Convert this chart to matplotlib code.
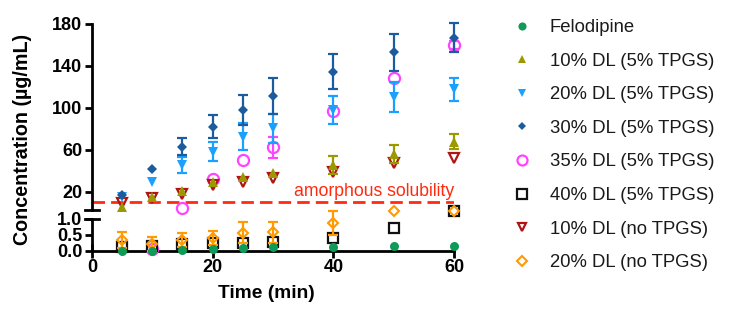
import numpy as np
import matplotlib.pyplot as plt
from matplotlib.lines import Line2D

plt.rcParams['font.family'] = ['Liberation Sans', 'DejaVu Sans']

# time points (min)
time = [5, 10, 15, 20, 25, 30, 40, 50, 60]

# concentrations (ug/mL)
felodipine = [0.0, 0.0, 0.03, 0.05, 0.08, 0.11, 0.13, 0.17, 0.17]
dl10_tpgs = [5.7, 14.6, 21, 29.5, 34.3, 38, 45.5, 56, 67.7]
dl10_tpgs_err = [0, 0, 0, 0, 0, 0, 9, 9, 7]
dl20_tpgs = [15, 29.5, 45.5, 58, 72.5, 80.5, 98, 110.6, 117.7]
dl20_tpgs_err = [0, 0, 8, 9, 13, 14, 13, 14.5, 11]
dl30_tpgs = [17, 41.4, 63, 82, 98, 111, 134.5, 153, 167]
dl30_tpgs_err = [0, 0, 8, 11, 14, 17, 16.5, 17.5, 14]
dl35_tpgs = [np.nan, 0.05, 4.7, 31.8, 50, 62.4, 97.3, 128, 160]
dl35_tpgs_err = [0, 0, 0, 0, 0, 10, 0, 0, 4]
dl40_tpgs = [0.13, 0.17, 0.22, 0.24, 0.26, 0.28, 0.4, 0.72, 1.25]
dl10_none = [9, 13.7, 17.8, 26.4, 29.5, 32.8, 39, 47, 51.9]
dl20_none = [0.34, 0.22, 0.33, 0.4, 0.57, 0.58, 0.87, 1.25, 1.25]
dl20_none_err = [0.24, 0.23, 0.22, 0.22, 0.33, 0.32, 0.38, 0, 0]

amorphous_solubility = 10

labels = ['Felodipine', '10% DL (5% TPGS)', '20% DL (5% TPGS)', '30% DL (5% TPGS)',
          '35% DL (5% TPGS)', '40% DL (5% TPGS)', '10% DL (no TPGS)', '20% DL (no TPGS)']
values = [felodipine, dl10_tpgs, dl20_tpgs, dl30_tpgs, dl35_tpgs, dl40_tpgs, dl10_none, dl20_none]
errors = [None, dl10_tpgs_err, dl20_tpgs_err, dl30_tpgs_err, dl35_tpgs_err, None, None, dl20_none_err]

styles = [
    dict(marker='o', color='#0f9a57', mfc='#0f9a57', ms=6.5, mew=0, z=9),
    dict(marker='^', color='#9a9a00', mfc='#9a9a00', ms=7, mew=0, z=6),
    dict(marker='v', color='#1aa0ff', mfc='#1aa0ff', ms=7, mew=0, z=4),
    dict(marker='D', color='#1c5c9e', mfc='#1c5c9e', ms=5, mew=0, z=5),
    dict(marker='o', color='#ff44ff', mfc='none', ms=8, mew=1.6, z=3),
    dict(marker='s', color='#111111', mfc='none', ms=7.5, mew=1.6, z=3),
    dict(marker='v', color='#b01515', mfc='none', ms=7, mew=1.6, z=3),
    dict(marker='D', color='#ff9a00', mfc='none', ms=5.2, mew=1.5, z=7),
]

split = 2.0  # values below this go on the lower (broken) segment

fig = plt.figure(figsize=(7.4, 3.22), dpi=100)
ax_hi = fig.add_axes([0.1243, 0.3478, 0.4892, 0.5777])
ax_lo = fig.add_axes([0.1243, 0.2205, 0.4892, 0.0994])

t = np.array(time)
for vals, err, st in zip(values, errors, styles):
    v = np.array(vals, dtype=float)
    e = np.zeros_like(v) if err is None else np.array(err, dtype=float)
    for ax, mask in ((ax_hi, v >= split), (ax_lo, v < split)):
        eb = mask & (e > 0)
        if eb.any():
            ax.errorbar(t[eb], v[eb], yerr=e[eb], fmt='none', ecolor=st['color'],
                        elinewidth=1.6, capsize=3.8, capthick=1.6,
                        zorder=st['z'] - 0.5, clip_on=False)
        ax.plot(t[mask], v[mask], linestyle='none', marker=st['marker'],
                color=st['color'], mfc=st['mfc'], mec=st['color'],
                ms=st['ms'], mew=st['mew'], zorder=st['z'], clip_on=False)

red = '#ff2a10'
ax_hi.axhline(amorphous_solubility, color=red, lw=2.0, dashes=(4.5, 2.2), zorder=2)
ax_hi.text(60, amorphous_solubility + 1.8, 'amorphous solubility', ha='right',
           va='bottom', color=red, fontsize=12.7)

for ax in (ax_hi, ax_lo):
    ax.set_xlim(0, 60)
    ax.patch.set_visible(False)
    for s in ('top', 'right'):
        ax.spines[s].set_visible(False)
    ax.spines['left'].set_linewidth(2.0)
    ax.tick_params(axis='y', direction='out', length=5, width=2.0, labelsize=13, pad=2)

ax_hi.set_ylim(2.5, 180)
ax_hi.set_yticks([20, 60, 100, 140, 180])
ax_hi.set_yticklabels(['20', '60', '100', '140', '180'], fontweight='bold')
ax_hi.spines['bottom'].set_visible(False)
ax_hi.tick_params(axis='x', bottom=False, labelbottom=False)

ax_lo.set_ylim(0, 1.0)
ax_lo.set_yticks([0.0, 0.5, 1.0])
ax_lo.set_yticklabels(['0.0', '0.5', '1.0'], fontweight='bold')
ax_lo.set_xticks([0, 20, 40, 60])
ax_lo.set_xticklabels(['0', '20', '40', '60'], fontweight='bold')
ax_lo.spines['bottom'].set_linewidth(2.0)
ax_lo.tick_params(axis='x', direction='inout', length=10, width=2.0, labelsize=13, pad=1)

# break marks on the y axis
ax_hi.plot([-0.02, 0.02], [0, 0], transform=ax_hi.transAxes, color='black', lw=2.0, clip_on=False)
ax_lo.plot([-0.02, 0.02], [1, 1], transform=ax_lo.transAxes, color='black', lw=2.0, clip_on=False)

fig.text(266.7 / 740, 1 - 293 / 322, 'Time (min)', ha='center', va='center',
         fontsize=13.8, fontweight='bold')
fig.text(23 / 740, 1 - 139 / 322, 'Concentration (\u00b5g/mL)', ha='center', va='center',
         rotation=90, fontsize=14.2, fontweight='bold')

handles = [Line2D([], [], linestyle='none', marker=st['marker'], color=st['color'],
                  mfc=st['mfc'], mec=st['color'], ms=st['ms'] * 0.9, mew=st['mew'])
           for st in styles]
fig.legend(handles, labels, loc='upper left', bbox_to_anchor=(512.75 / 740, 1 - 19 / 322),
           frameon=False, fontsize=13.3, handlelength=1.0, handletextpad=1.0,
           labelspacing=0.9, borderpad=0, borderaxespad=0, labelcolor='#1a1a1a')

fig.savefig('out.png', dpi=100)
